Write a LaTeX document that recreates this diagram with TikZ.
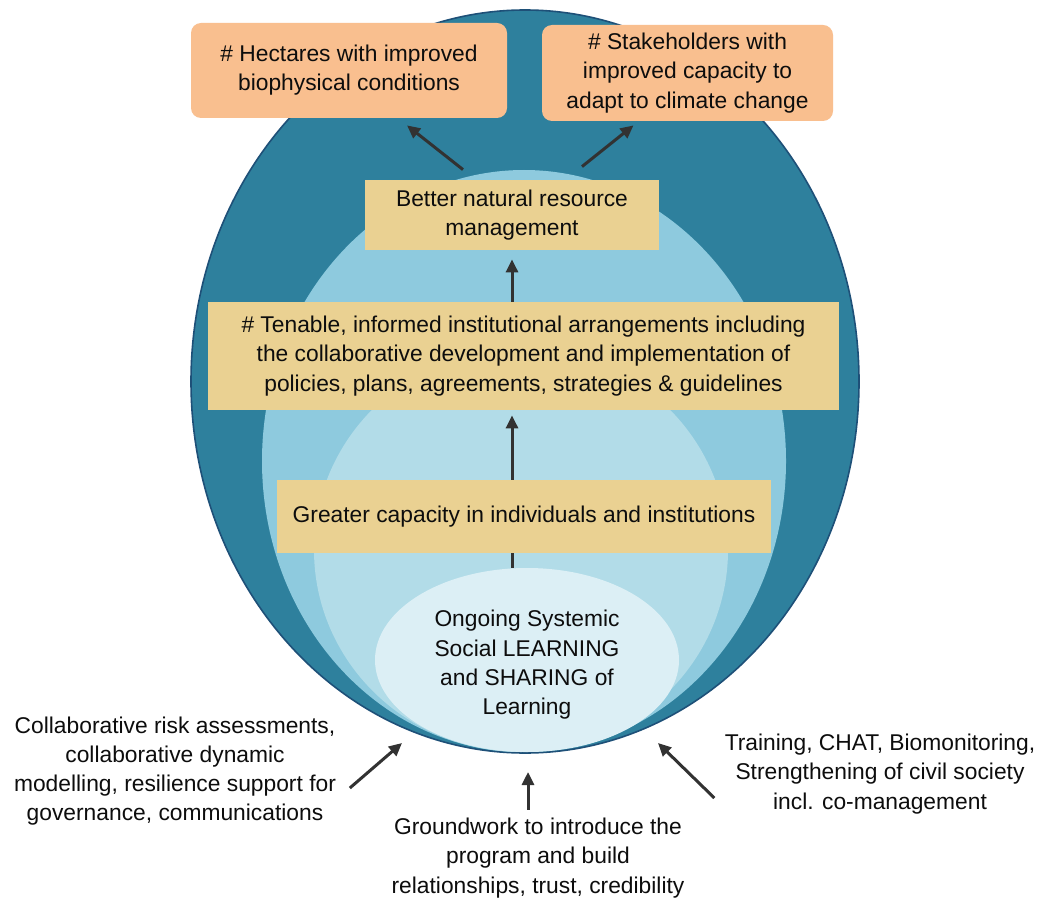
\documentclass[tikz,border=0pt]{standalone}
\usepackage{fontspec}
\setmainfont{Liberation Sans}
\usetikzlibrary{arrows.meta,shapes.geometric}
\definecolor{ringdark}{RGB}{46,128,157}
\definecolor{ringedge}{RGB}{30,80,120}
\definecolor{ringmid}{RGB}{142,202,222}
\definecolor{ringlight}{RGB}{178,220,232}
\definecolor{ringcore}{RGB}{220,239,245}
\definecolor{boxsand}{RGB}{234,209,146}
\definecolor{boxpeach}{RGB}{249,191,143}
\definecolor{arrowgray}{RGB}{50,50,50}

\tikzset{
  lbl/.style={font=\fontsize{11.4}{14.6}\selectfont, align=center, text=black!95, inner sep=0pt},
  outcome/.style={lbl, fill=boxpeach, rounded corners=5pt},
  stage/.style={lbl, fill=boxsand},
  arr/.style={arrowgray, line width=1.5pt, -{Triangle[length=6.5pt,width=6pt]}},
}

\begin{document}
\begin{tikzpicture}[x=0.5pt,y=0.5pt]
  \fill[white] (0,0) rectangle (1042,897);
  % nested rings, all resting on the same bottom point
  \filldraw[fill=ringdark,draw=ringedge,line width=0.8pt] (525,515.5) ellipse [x radius=334, y radius=371.5];
  \fill[ringmid] (524,436) ellipse [x radius=262, y radius=291];
  \fill[ringlight] (521,347) ellipse [x radius=207, y radius=202];
  \node[lbl, ellipse, fill=ringcore, minimum width=152pt, minimum height=92pt] (learn) at (527,237)
       {\rule{0pt}{13pt}Ongoing Systemic\\Social LEARNING\\and SHARING of\\Learning};

  % result boxes
  \node[outcome, minimum width=158pt, minimum height=47.5pt] (hectares) at (349,826.5)
       {\# Hectares with improved\\biophysical conditions};
  \node[outcome, minimum width=145.5pt, minimum height=48pt] (stake) at (687.5,824)
       {\# Stakeholders with\\improved capacity to\\adapt to climate change};
  \node[stage, minimum width=147pt, minimum height=35pt] (better) at (512,682)
       {Better natural resource\\management};
  \node[stage, minimum width=315.5pt, minimum height=54pt] (tenable) at (523.5,541)
       {\# Tenable, informed institutional arrangements including\\the collaborative development and implementation of\\policies, plans, agreements, strategies \& guidelines};
  \node[stage, minimum width=247pt, minimum height=36.5pt] (greater) at (524,380.5)
       {Greater capacity in individuals and institutions};

  % inputs around the base
  \node[lbl] (risk) at (175,126)
       {Collaborative risk assessments,\\collaborative dynamic\\modelling, resilience support for\\governance, communications};
  \node[lbl] (train) at (880,123)
       {Training, CHAT, Biomonitoring,\\Strengthening of civil society\\incl. co-management};
  \node[lbl] (ground) at (538,39)
       {Groundwork to introduce the\\program and build\\relationships, trust, credibility};
  \coordinate (inL) at (402,154);
  \coordinate (inB) at (528,125);
  \coordinate (inR) at (658,154);

  \draw[arr] ([shift={(-24.5pt,5pt)}]better.north) -- ([shift={(29pt,-3.5pt)}]hectares.south);
  \draw[arr] ([shift={(35pt,6.5pt)}]better.north) -- ([shift={(-27pt,-2pt)}]stake.south);
  \draw[arr, shorten >=4.5pt] (tenable.north -| better.south) -- (better.south);
  \draw[arr, shorten >=2.5pt] (greater.north -| better.south) -- (tenable.south -| better.south);
  \draw[arrowgray, line width=1.5pt] (learn.north -| better.south) -- (greater.south -| better.south);

  \draw[arr] ([shift={(6.75pt,-8.5pt)}]risk.east) -- (inL);
  \draw[arr, shorten <=4pt] (ground.north -| inB) -- (inB);
  \draw[arr] ([shift={(-5pt,-12pt)}]train.west) -- (inR);
\end{tikzpicture}
\end{document}
